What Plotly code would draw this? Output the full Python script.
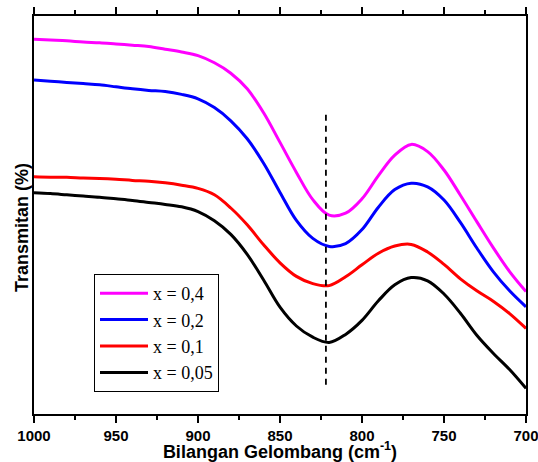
import plotly.graph_objects as go

# Wavenumber grid (cm^-1) shared by all spectra, 10 cm^-1 steps
wavenumber = [1000, 990, 980, 970, 960, 950, 940, 930, 920, 910, 900, 890, 880,
              870, 860, 850, 840, 830, 820, 810, 800, 790, 780, 770, 760, 750,
              740, 730, 720, 710, 700]

# Transmittance (arbitrary offset units) for each composition
t_x04 = [93.7, 93.5, 93.3, 93.0, 92.8, 92.5, 92.2, 91.9, 91.2, 90.5, 89.6, 87.8, 85.2,
         81.3, 75.3, 67.9, 60.4, 53.6, 49.7, 50.2, 53.8, 59.6, 64.7, 67.4, 65.6, 61.0,
         54.7, 48.1, 41.6, 35.6, 30.6]
t_x02 = [83.5, 83.2, 82.9, 82.6, 82.3, 81.8, 81.3, 80.9, 80.6, 79.9, 78.8, 76.6, 73.3,
         68.8, 62.7, 55.4, 48.4, 43.9, 41.9, 42.6, 46.1, 51.7, 56.1, 57.7, 56.8, 53.5,
         47.9, 41.5, 35.6, 30.8, 26.8]
t_x01 = [59.3, 59.2, 59.2, 59.0, 58.9, 58.7, 58.4, 58.2, 57.8, 57.2, 56.4, 54.8, 51.5,
         47.3, 42.3, 37.8, 34.4, 32.6, 32.1, 34.3, 37.3, 40.2, 42.0, 42.4, 40.5, 37.4,
         33.8, 30.8, 28.2, 25.1, 21.4]
t_x005 = [55.3, 55.1, 54.8, 54.5, 54.2, 53.8, 53.4, 52.9, 52.4, 51.8, 50.6, 48.3, 44.9,
          39.9, 33.5, 26.7, 22.0, 19.2, 17.9, 19.9, 23.4, 28.3, 32.3, 34.1, 33.3, 30.0,
          25.2, 19.7, 15.2, 11.1, 6.4]

series_names = ["x = 0,4", "x = 0,2", "x = 0,1", "x = 0,05"]
series_values = [t_x04, t_x02, t_x01, t_x005]
series_colors = ["#FF00FF", "#0000FF", "#FF0000", "#000000"]

# Reference band position marker
marker_x = [822, 822]
marker_y = [7.3, 75.3]

x_ticks = [1000, 950, 900, 850, 800, 750, 700]

fig = go.Figure()

for name, vals, color in zip(series_names, series_values, series_colors):
    fig.add_trace(go.Scatter(
        x=wavenumber, y=vals, name=name, mode="lines",
        line=dict(color=color, width=3, shape="spline", smoothing=1.0),
    ))

fig.add_trace(go.Scatter(
    x=marker_x, y=marker_y, mode="lines", showlegend=False,
    line=dict(color="black", width=1.8, dash="6px,5px"),
))

sans = "Liberation Sans, Arial, sans-serif"

fig.update_layout(
    width=538, height=462,
    margin=dict(l=34, r=12, t=16, b=48, autoexpand=False),
    paper_bgcolor="white", plot_bgcolor="white",
    showlegend=True,
    legend=dict(
        x=(94 - 34) / 492, y=(414 - 333) / 398,
        xanchor="left", yanchor="middle",
        bgcolor="white", bordercolor="black", borderwidth=1,
        font=dict(family="Liberation Serif, Times New Roman, serif", size=18, color="black"),
        itemwidth=48, tracegroupgap=0,
    ),
    xaxis=dict(
        range=[1000, 700], tickvals=x_ticks, automargin=False,
        ticklabeloverflow="allow",
        ticks="outside", ticklen=7, tickwidth=2, tickcolor="black",
        showline=True, linewidth=2, linecolor="black", mirror="ticks",
        showgrid=False, zeroline=False,
        tickfont=dict(family=sans, size=15, color="black", weight="bold"),
        minor=dict(dtick=25, ticks="outside", ticklen=4, tickwidth=2, tickcolor="black", showgrid=False),
        title=dict(text="Bilangan Gelombang (cm<sup>-1</sup>)",
                   font=dict(family=sans, size=18, color="black", weight="bold"),
                   standoff=5),
    ),
    yaxis=dict(
        range=[0, 99.5], showticklabels=False, ticks="", automargin=False,
        showline=True, linewidth=2, linecolor="black", mirror=True,
        showgrid=False, zeroline=False,
    ),
    annotations=[dict(
        text="Transmitan (%)", textangle=-90, showarrow=False,
        xref="paper", yref="paper", x=(22 - 34) / 492, y=(414 - 228) / 398,
        xanchor="center", yanchor="middle",
        font=dict(family=sans, size=18, color="black", weight="bold"),
    )],
)

fig.write_html("out.html")
